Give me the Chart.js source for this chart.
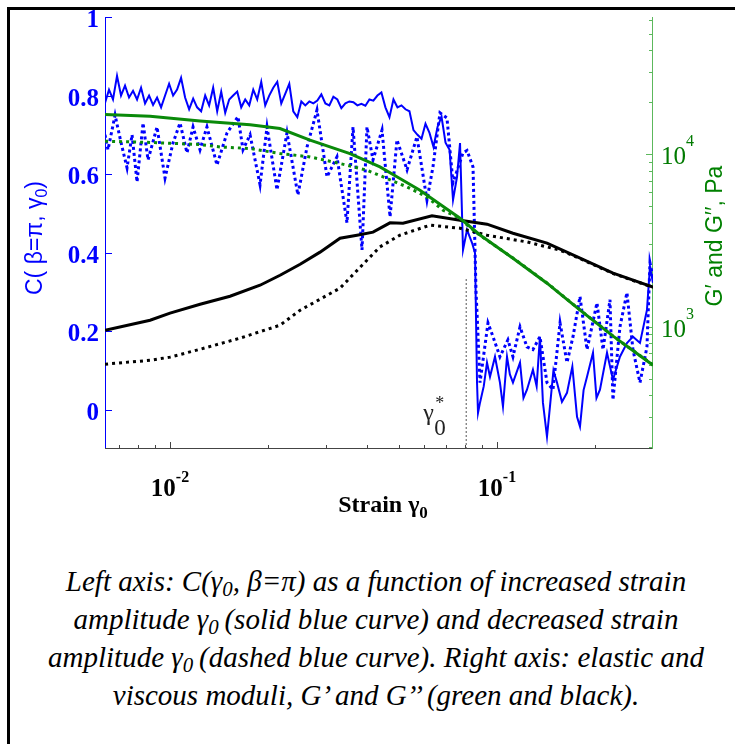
<!DOCTYPE html>
<html><head><meta charset="utf-8">
<script src="https://cdn.jsdelivr.net/npm/chart.js@4/dist/chart.umd.min.js"></script>
<style>
html,body{margin:0;padding:0;background:#fff;width:735px;height:744px;overflow:hidden;}
#frame{position:absolute;left:7px;top:7px;width:900px;height:900px;border:3px solid #000;box-sizing:border-box;}
#wrap{position:absolute;left:0;top:0;width:735px;height:540px;}
#caption{position:absolute;left:0;width:752px;top:562px;text-align:center;font-family:"Liberation Serif","Times New Roman",serif;font-style:italic;font-size:29px;line-height:38px;color:#000;}
#caption sub{font-size:0.72em;vertical-align:-0.22em;line-height:0;}
</style></head>
<body>
<div id="frame"></div>
<div id="wrap"><canvas id="c" width="735" height="540"></canvas></div>
<div id="caption">Left axis: C(γ<sub>0</sub>, β=π) as a function of increased strain<br>amplitude γ<sub>0</sub>&#8201;(solid blue curve) and decreased strain<br>amplitude γ<sub>0</sub>&#8201;(dashed blue curve). Right axis: elastic and<br>viscous moduli, G’ and G’’ (green and black).</div>
<script>
// ---- Left axis: C(beta=pi, gamma0), increasing strain (solid blue)
const strainInc = [0.006326,0.006507,0.006693,0.006885,0.007082,0.007284,0.007493,0.007707,0.007928,0.008155,0.008388,0.008628,0.008875,0.009129,0.00939,0.009658,0.009935,0.01022,0.01051,0.01081,0.01112,0.01144,0.01177,0.0121,0.01245,0.01281,0.01317,0.01355,0.01394,0.01434,0.01475,0.01517,0.0156,0.01605,0.01651,0.01698,0.01747,0.01797,0.01848,0.01901,0.01955,0.02011,0.02069,0.02128,0.02189,0.02252,0.02316,0.02382,0.02451,0.02521,0.02593,0.02667,0.02743,0.02822,0.02903,0.02986,0.03071,0.03159,0.03249,0.03342,0.03438,0.03536,0.03637,0.03741,0.03848,0.03958,0.04072,0.04188,0.04308,0.04431,0.04558,0.04689,0.04823,0.04961,0.05103,0.05249,0.05399,0.05554,0.05713,0.05876,0.06044,0.06217,0.06395,0.06578,0.06767,0.0696,0.0716,0.07337,0.07547,0.07708,0.07872,0.08098,0.08387,0.08566,0.08688,0.08749,0.08873,0.0911,0.0932,0.09519,0.0986,0.1021,0.1043,0.1073,0.1095,0.1119,0.1176,0.1205,0.1235,0.1288,0.1322,0.1353,0.1382,0.1422,0.1452,0.1488,0.1526,0.158,0.1637,0.17,0.1757,0.1794,0.184,0.1885,0.1966,0.2015,0.2065,0.217,0.2263,0.2377,0.2497,0.2605,0.2737,0.2875,0.2937,0.2999];
const cInc = [0.781,0.815,0.790,0.850,0.800,0.825,0.795,0.812,0.790,0.820,0.780,0.800,0.776,0.795,0.770,0.800,0.830,0.800,0.815,0.845,0.795,0.765,0.792,0.770,0.760,0.800,0.775,0.820,0.760,0.810,0.756,0.790,0.800,0.810,0.770,0.790,0.775,0.815,0.790,0.835,0.775,0.800,0.820,0.835,0.780,0.805,0.830,0.760,0.745,0.785,0.775,0.785,0.780,0.787,0.803,0.780,0.775,0.797,0.790,0.768,0.780,0.785,0.783,0.775,0.779,0.774,0.790,0.787,0.800,0.808,0.770,0.745,0.790,0.770,0.775,0.765,0.760,0.712,0.700,0.690,0.728,0.705,0.669,0.720,0.746,0.680,0.662,0.534,0.593,0.679,0.407,0.458,0.425,0.399,0.069,-0.008,0.018,0.060,0.120,0.084,0.135,0.069,0.008,0.135,0.090,0.069,0.120,0.030,0.051,0.102,0.060,0.186,0.018,-0.069,0.008,0.100,0.069,0.020,0.043,0.110,-0.018,-0.043,0.050,0.084,0.145,0.030,0.051,0.145,0.076,0.135,0.170,0.186,0.170,0.254,0.364,0.323];
// ---- Left axis: decreasing strain (dashed blue)
const strainDec = [0.006326,0.006461,0.00679,0.007083,0.007388,0.007653,0.007928,0.00827,0.008566,0.009124,0.009654,0.01021,0.01073,0.01127,0.01176,0.01235,0.01297,0.01392,0.01494,0.01614,0.01672,0.01757,0.01885,0.0198,0.02124,0.02279,0.02461,0.02624,0.02815,0.03021,0.03241,0.03477,0.03628,0.03865,0.04003,0.04176,0.0445,0.04709,0.04944,0.05307,0.05691,0.06107,0.0637,0.06693,0.07031,0.07337,0.07872,0.08098,0.08447,0.08627,0.08688,0.08873,0.09386,0.09723,0.1021,0.108,0.1119,0.1176,0.1235,0.1288,0.1353,0.1422,0.1483,0.1559,0.1637,0.1708,0.1794,0.1885,0.2022,0.211,0.2216,0.2263,0.2377,0.2497,0.2605,0.2737,0.2875,0.2937,0.2999];
const cDec = [0.700,0.662,0.750,0.680,0.616,0.700,0.580,0.730,0.636,0.720,0.590,0.679,0.730,0.654,0.720,0.662,0.720,0.623,0.705,0.746,0.662,0.700,0.573,0.720,0.560,0.705,0.547,0.669,0.763,0.593,0.644,0.476,0.720,0.407,0.720,0.636,0.712,0.491,0.687,0.611,0.695,0.534,0.618,0.756,0.743,0.578,0.654,0.660,0.618,0.300,0.247,0.069,0.221,0.186,0.135,0.178,0.135,0.211,0.160,0.153,0.186,0.069,0.051,0.221,0.120,0.186,0.288,0.153,0.272,0.153,0.280,0.025,0.211,0.298,0.153,0.069,0.160,0.374,0.338];
// ---- Right axis: G' (green), Pa
const strainGp1 = [0.00633,0.00869,0.01235,0.01757,0.02169,0.0268,0.03551,0.04386,0.05047,0.05813,0.06693,0.07708,0.08873,0.1119,0.1422,0.1795,0.2265,0.3];
const gp1 = [17000,16600,15600,14800,14100,12060,10090,8440,7230,6180,5130,4250,3400,2490,1786,1245,880,597];
const strainGp2 = [0.00633,0.00869,0.01235,0.01422,0.01757,0.02169,0.0268,0.03311,0.04003,0.04608,0.05307,0.06107,0.06838,0.07547,0.08873,0.1119,0.1422,0.1795,0.2265,0.3];
const gp2 = [11900,11700,11380,11020,10790,10090,9645,8830,8075,7230,6460,5650,4730,4330,3380,2500,1790,1250,880,600];
// ---- Right axis: G'' (black), Pa
const strainGpp1 = [0.00633,0.00869,0.01,0.01236,0.01526,0.01885,0.0217,0.025,0.02876,0.03311,0.03732,0.04177,0.04707,0.05158,0.06327,0.0771,0.09321,0.1119,0.1422,0.1795,0.2265,0.3];
const gpp1 = [953,1089,1197,1349,1501,1738,1986,2301,2703,3257,3389,3530,3997,3980,4389,4142,3927,3480,3048,2493,2041,1693];
const strainGpp2 = [0.00633,0.00869,0.01,0.01236,0.01637,0.0217,0.025,0.0331,0.03948,0.04385,0.05047,0.06239,0.0771,0.0932,0.1235,0.156,0.1795,0.2265,0.3];
const gpp2 = [605,638,665,739,857,1019,1245,1671,2364,2899,3389,3877,3722,3389,3098,2774,2480,2030,1690];
// ---- critical strain marker
const gammaStar = 0.0805;
const gammaStarTop = 0.338;
// ---- ticks
const leftTicks = [0, 0.2, 0.4, 0.6, 0.8, 1];
const leftTickLabels = ['0', '0.2', '0.4', '0.6', '0.8', '1'];
const xMajorTicks = [0.01, 0.1];
const xMajorExp = ['-2', '-1'];
const xMinorTicks = [0.007,0.008,0.009,0.02,0.03,0.04,0.05,0.06,0.07,0.08,0.09,0.2];
const rightMajorTicks = [1000, 10000];
const rightMajorExp = ['3', '4'];
const rightMinorTicks = [200,300,400,500,600,700,800,900,2000,3000,4000,5000,6000,7000,8000,9000,20000,30000,40000,50000,60000];

const pts = (xs, ys) => xs.map((v, i) => ({x: v, y: ys[i]}));

function seg(ctx, x1, y1, x2, y2) { ctx.beginPath(); ctx.moveTo(x1, y1); ctx.lineTo(x2, y2); ctx.stroke(); }

function drawParts(ctx, parts, x0, y0) {
  let x = x0;
  for (const p of parts) { ctx.font = p[1]; ctx.fillText(p[0], x, y0 + p[2]); x += ctx.measureText(p[0]).width; }
}
function partsWidth(ctx, parts) {
  let w = 0; for (const p of parts) { ctx.font = p[1]; w += ctx.measureText(p[0]).width; } return w;
}

const SERIF = '"Liberation Serif","Times New Roman",serif';
const SANS = '"Liberation Sans",Arial,sans-serif';

const axesPlugin = {
  id: 'customAxes',
  beforeDatasetsDraw(chart) {
    const {ctx, chartArea: a, scales: {x, y, y2}} = chart;
    ctx.save();
    ctx.lineWidth = 1;
    ctx.strokeStyle = '#0000ff';
    seg(ctx, a.left + 0.5, a.top, a.left + 0.5, a.bottom);
    for (const v of leftTicks) { const py = Math.round(y.getPixelForValue(v)) + 0.5; seg(ctx, a.left, py, a.left + 7, py); }
    ctx.strokeStyle = '#444444';
    seg(ctx, a.left, a.bottom - 0.5, a.right, a.bottom - 0.5);
    for (const v of xMajorTicks) { const px = Math.round(x.getPixelForValue(v)) + 0.5; seg(ctx, px, a.bottom, px, a.bottom - 7); }
    for (const v of xMinorTicks) { const px = Math.round(x.getPixelForValue(v)) + 0.5; seg(ctx, px, a.bottom, px, a.bottom - 4); }
    ctx.strokeStyle = '#5cb85c';
    seg(ctx, a.right - 0.5, a.top, a.right - 0.5, a.bottom);
    for (const v of rightMajorTicks) { const py = Math.round(y2.getPixelForValue(v)) + 0.5; seg(ctx, a.right, py, a.right - 7, py); }
    for (const v of rightMinorTicks) { const py = Math.round(y2.getPixelForValue(v)) + 0.5; seg(ctx, a.right, py, a.right - 4, py); }
    ctx.restore();
  },
  afterDraw(chart) {
    const {ctx, chartArea: a, scales: {x, y, y2}} = chart;
    ctx.save();
    ctx.textBaseline = 'alphabetic';
    ctx.fillStyle = '#0000ff';
    ctx.font = 'bold 25px ' + SERIF;
    ctx.textAlign = 'right';
    leftTicks.forEach((v, i) => ctx.fillText(leftTickLabels[i], a.left - 6, y.getPixelForValue(v) + 10));
    ctx.textAlign = 'left';
    ctx.fillStyle = '#000';
    xMajorTicks.forEach((v, i) => {
      const parts = [['10', 'bold 25px ' + SERIF, 0], [xMajorExp[i], 'bold 16px ' + SERIF, -14]];
      const w = partsWidth(ctx, parts);
      drawParts(ctx, parts, x.getPixelForValue(v) - w / 2, a.bottom + 47);
    });
    ctx.fillStyle = '#007a00';
    rightMajorTicks.forEach((v, i) => {
      const parts = [['10', '25px ' + SERIF, 0], [rightMajorExp[i], '16px ' + SERIF, -18]];
      drawParts(ctx, parts, a.right + 8, y2.getPixelForValue(v) + 10);
    });
    ctx.fillStyle = '#000';
    const xt = [['Strain γ', 'bold 24px ' + SERIF, 0], ['0', 'bold 17px ' + SERIF, 6]];
    drawParts(ctx, xt, (a.left + a.right) / 2 + 4 - partsWidth(ctx, xt) / 2, a.bottom + 63);
    ctx.save();
    ctx.translate(42, 238); ctx.rotate(-Math.PI / 2);
    ctx.fillStyle = '#0000ff';
    const lt = [['C( β=π, γ', '23px ' + SANS, 0], ['0', '16px ' + SANS, 5], [')', '23px ' + SANS, 0]];
    drawParts(ctx, lt, -partsWidth(ctx, lt) / 2, 0);
    ctx.restore();
    ctx.save();
    ctx.translate(722, 236); ctx.rotate(-Math.PI / 2);
    ctx.fillStyle = '#008000';
    ctx.font = '23px ' + SANS; ctx.textAlign = 'center';
    ctx.fillText('G′ and G′′, Pa', 0, 0);
    ctx.restore();
    const gx = x.getPixelForValue(gammaStar), gy = y.getPixelForValue(0);
    ctx.fillStyle = '#222';
    ctx.textAlign = 'left';
    ctx.font = '24px ' + SERIF; ctx.fillText('γ', gx - 43, gy + 10);
    ctx.font = '23px ' + SERIF; ctx.fillText('0', gx - 32, gy + 25);
    ctx.font = '18px ' + SERIF; ctx.fillText('*', gx - 31, gy - 1);
    ctx.restore();
  }
};

new Chart(document.getElementById('c'), {
  type: 'line',
  data: {
    datasets: [
      {label: "G' increasing", data: pts(strainGp1, gp1), yAxisID: 'y2', borderColor: '#0a8a0a', borderWidth: 3},
      {label: "G'' increasing", data: pts(strainGpp1, gpp1), yAxisID: 'y2', borderColor: '#000000', borderWidth: 3},
      {label: "G' decreasing", data: pts(strainGp2, gp2), yAxisID: 'y2', borderColor: '#0a8a0a', borderWidth: 3, borderDash: [3, 4]},
      {label: "G'' decreasing", data: pts(strainGpp2, gpp2), yAxisID: 'y2', borderColor: '#000000', borderWidth: 3, borderDash: [3, 4]},
      {label: 'gamma*', data: [{x: gammaStar, y: -0.1}, {x: gammaStar, y: gammaStarTop}], yAxisID: 'y', borderColor: '#555555', borderWidth: 1, borderDash: [2, 2]},
      {label: 'C increasing', data: pts(strainInc, cInc), yAxisID: 'y', borderColor: '#0000ff', borderWidth: 2},
      {label: 'C decreasing', data: pts(strainDec, cDec), yAxisID: 'y', borderColor: '#0000ff', borderWidth: 3, borderDash: [3, 3]}
    ]
  },
  options: {
    responsive: false,
    animation: false,
    layout: {padding: {left: 105, right: 82, top: 17, bottom: 91}},
    elements: {point: {radius: 0}, line: {tension: 0, fill: false}},
    plugins: {legend: {display: false}, tooltip: {enabled: false}},
    scales: {
      x: {type: 'logarithmic', min: 0.006326, max: 0.3, display: false, bounds: 'data'},
      y: {type: 'linear', min: -0.1, max: 1, display: false, position: 'left'},
      y2: {type: 'logarithmic', min: 195, max: 62500, display: false, position: 'right', bounds: 'data'}
    }
  },
  plugins: [axesPlugin]
});
</script>
</body></html>
